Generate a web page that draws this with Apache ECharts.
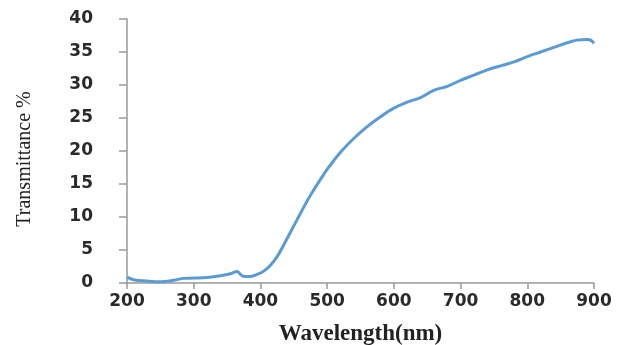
<!DOCTYPE html>
<html>
<head>
<meta charset="utf-8">
<script src="https://cdn.jsdelivr.net/npm/echarts@6/dist/echarts.min.js"></script>
<style>html,body{margin:0;padding:0;background:#fff;}#c{width:621px;height:345px;}</style>
</head>
<body>
<div id="c"></div>
<script>
const wavelengths = [200,210,230,250,270,285,300,320,340,355,365,370,375,385,395,405,415,425,435,445,455,465,475,490,500,520,540,560,580,600,620,640,660,680,700,720,740,760,780,800,820,840,860,875,890,895,900];
const transmittance = [0.9,0.5,0.3,0.2,0.4,0.7,0.75,0.85,1.1,1.4,1.75,1.3,1.0,1.0,1.3,1.8,2.7,4.0,5.8,7.7,9.6,11.5,13.3,15.7,17.2,19.8,21.9,23.7,25.2,26.5,27.4,28.1,29.2,29.8,30.7,31.5,32.3,32.9,33.5,34.3,35.0,35.7,36.4,36.8,36.9,36.8,36.3];
const xTicks = [200,300,400,500,600,700,800,900];
const yTicks = [0,5,10,15,20,25,30,35,40];

const chart = echarts.init(document.getElementById('c'), null, {renderer:'canvas'});
const labelFont = {fontFamily:'DejaVu Sans', fontWeight:'bold', fontSize:17, color:'#2a2a2a'};
chart.setOption({
  animation:false,
  grid:{left:127, right:27, top:19, bottom:62, containLabel:false, outerBoundsMode:'none'},
  xAxis:{
    type:'value', min:xTicks[0], max:xTicks[xTicks.length-1], interval:100,
    name:'Wavelength(nm)', nameLocation:'middle', nameGap:40,
    nameTextStyle:{fontFamily:'Liberation Serif', fontWeight:'bold', fontSize:23, color:'#222'},
    axisLine:{lineStyle:{color:'#999', width:1.5}},
    axisTick:{show:true, length:6, lineStyle:{color:'#999', width:1.5}},
    axisLabel:Object.assign({margin:10}, labelFont),
    splitLine:{show:false}
  },
  yAxis:{
    type:'value', min:yTicks[0], max:yTicks[yTicks.length-1], interval:5,
    name:'Transmittance %', nameLocation:'middle', nameGap:92,
    nameTextStyle:{fontFamily:'Liberation Serif', fontSize:20, color:'#222', padding:[0,16,0,0]},
    axisLine:{show:true, lineStyle:{color:'#999', width:1.5}},
    axisTick:{show:true, length:8, lineStyle:{color:'#999', width:1.5}},
    axisLabel:Object.assign({margin:34}, labelFont),
    splitLine:{show:false}
  },
  series:[{
    type:'line', smooth:0.4, showSymbol:false,
    data:wavelengths.map((w,i)=>[w, transmittance[i]]),
    lineStyle:{color:'#5B9BD5', width:3}
  }]
});
</script>
</body>
</html>
